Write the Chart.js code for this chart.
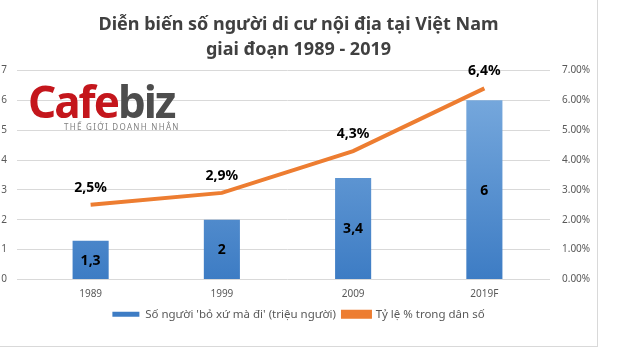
<!DOCTYPE html>
<html>
<head>
<meta charset="utf-8">
<script src="https://cdn.jsdelivr.net/npm/chart.js@4"></script>
<style>
  body { margin: 0; background: #fff; }
  #box { position: absolute; left: 0; top: 0; width: 597px; height: 346px; border: 1px solid #d9d9d9; border-top: none; border-left: none; }
  #logo { position: absolute; left: 28px; top: 80px; font-family: "Noto Sans", sans-serif; }
  #logo .name { font-size: 44px; font-weight: bold; letter-spacing: -2px; line-height: 42px; }
  #logo .cafe { color: #c4161c; }
  #logo .biz { color: #4d4d4d; }
  #logo .sub { font-size: 8px; color: #808080; letter-spacing: 1.3px; margin-left: 36px; margin-top: -1px; }
</style>
</head>
<body>
<div id="box"><canvas id="myChart"></canvas></div>
<div id="logo"><div class="name"><span class="cafe">Cafe</span><span class="biz">biz</span></div><div class="sub">THẾ GIỚI DOANH NHÂN</div></div>
<script>
const years = ["1989", "1999", "2009", "2019F"];
const migrants = [1.3, 2, 3.4, 6];
const percent = [2.5, 2.9, 4.3, 6.4];
const leftTicks = [0, 1, 2, 3, 4, 5, 6, 7];
const fontName = "'Noto Sans', sans-serif";

// ve nhan so lieu len cot va duong
const labelsPlugin = {
  id: "labels",
  afterDatasetsDraw(chart) {
    let ctx = chart.ctx;
    ctx.save();
    ctx.fillStyle = "#000";
    ctx.font = "bold 14px " + fontName;
    ctx.textAlign = "center";
    ctx.textBaseline = "middle";
    chart.getDatasetMeta(0).data.forEach((bar, i) => {
      let txt = String(migrants[i]).replace(".", ",");
      ctx.fillText(txt, bar.x, (bar.y + bar.base) / 2 + 1);
    });
    chart.getDatasetMeta(1).data.forEach((pt, i) => {
      let txt = String(percent[i]).replace(".", ",") + "%";
      ctx.fillText(txt, pt.x, pt.y - 17);
    });
    ctx.restore();
  },
};

function barGradient(context) {
  let area = context.chart.chartArea;
  if (!area) return "#5b9bd5";
  let g = context.chart.ctx.createLinearGradient(0, area.top, 0, area.bottom);
  g.addColorStop(0, "#7eaee0");
  g.addColorStop(1, "#3d7cc4");
  return g;
}

new Chart("myChart", {
  type: "bar",
  data: {
    labels: years,
    datasets: [
      {
        label: "Số người 'bỏ xứ mà đi' (triệu người)",
        data: migrants,
        backgroundColor: barGradient,
        borderWidth: 0,
        categoryPercentage: 1,
        barPercentage: 0.275,
        yAxisID: "y",
        order: 1,
      },
      {
        type: "line",
        label: "Tỷ lệ % trong dân số",
        data: percent,
        borderColor: "#ed7d31",
        backgroundColor: "#ed7d31",
        borderWidth: 4,
        pointRadius: 0,
        fill: false,
        yAxisID: "y1",
        order: 0,
      },
    ],
  },
  options: {
    responsive: true,
    maintainAspectRatio: false,
    animation: false,
    layout: { padding: { top: 0, bottom: 16, left: 0, right: 0 } },
    plugins: {
      title: {
        display: true,
        text: ["Diễn biến số người di cư nội địa tại Việt Nam", "giai đoạn 1989 - 2019"],
        color: "#404040",
        font: { family: fontName, size: 18, weight: "bold", lineHeight: 1.4 },
        padding: { top: 12, bottom: 8 },
      },
      legend: {
        position: "bottom",
        labels: {
          sort: (a, b) => a.datasetIndex - b.datasetIndex,
          color: "#595959",
          font: { family: fontName, size: 11.5 },
          boxWidth: 27,
          boxHeight: 5,
          padding: 7,
        },
      },
      tooltip: { enabled: false },
    },
    scales: {
      x: {
        grid: { display: false },
        border: { display: false },
        ticks: { color: "#595959", font: { family: fontName, size: 10 }, padding: 1 },
      },
      y: {
        position: "left",
        min: 0,
        max: 7,
        afterBuildTicks: (s) => { s.ticks = leftTicks.map((v) => ({ value: v })); },
        afterFit: (s) => { s.width = 25; },
        grid: { color: "#d9d9d9" },
        border: { display: false },
        ticks: { color: "#595959", font: { family: fontName, size: 10 }, padding: 10 },
      },
      y1: {
        position: "right",
        min: 0,
        max: 7,
        afterBuildTicks: (s) => { s.ticks = leftTicks.map((v) => ({ value: v })); },
        afterFit: (s) => { s.width = 47; },
        grid: { display: false },
        border: { display: false },
        ticks: {
          color: "#595959",
          font: { family: fontName, size: 10 },
          padding: 4,
          callback: (v) => v.toFixed(2) + "%",
        },
      },
    },
  },
  plugins: [labelsPlugin],
});
</script>
</body>
</html>
